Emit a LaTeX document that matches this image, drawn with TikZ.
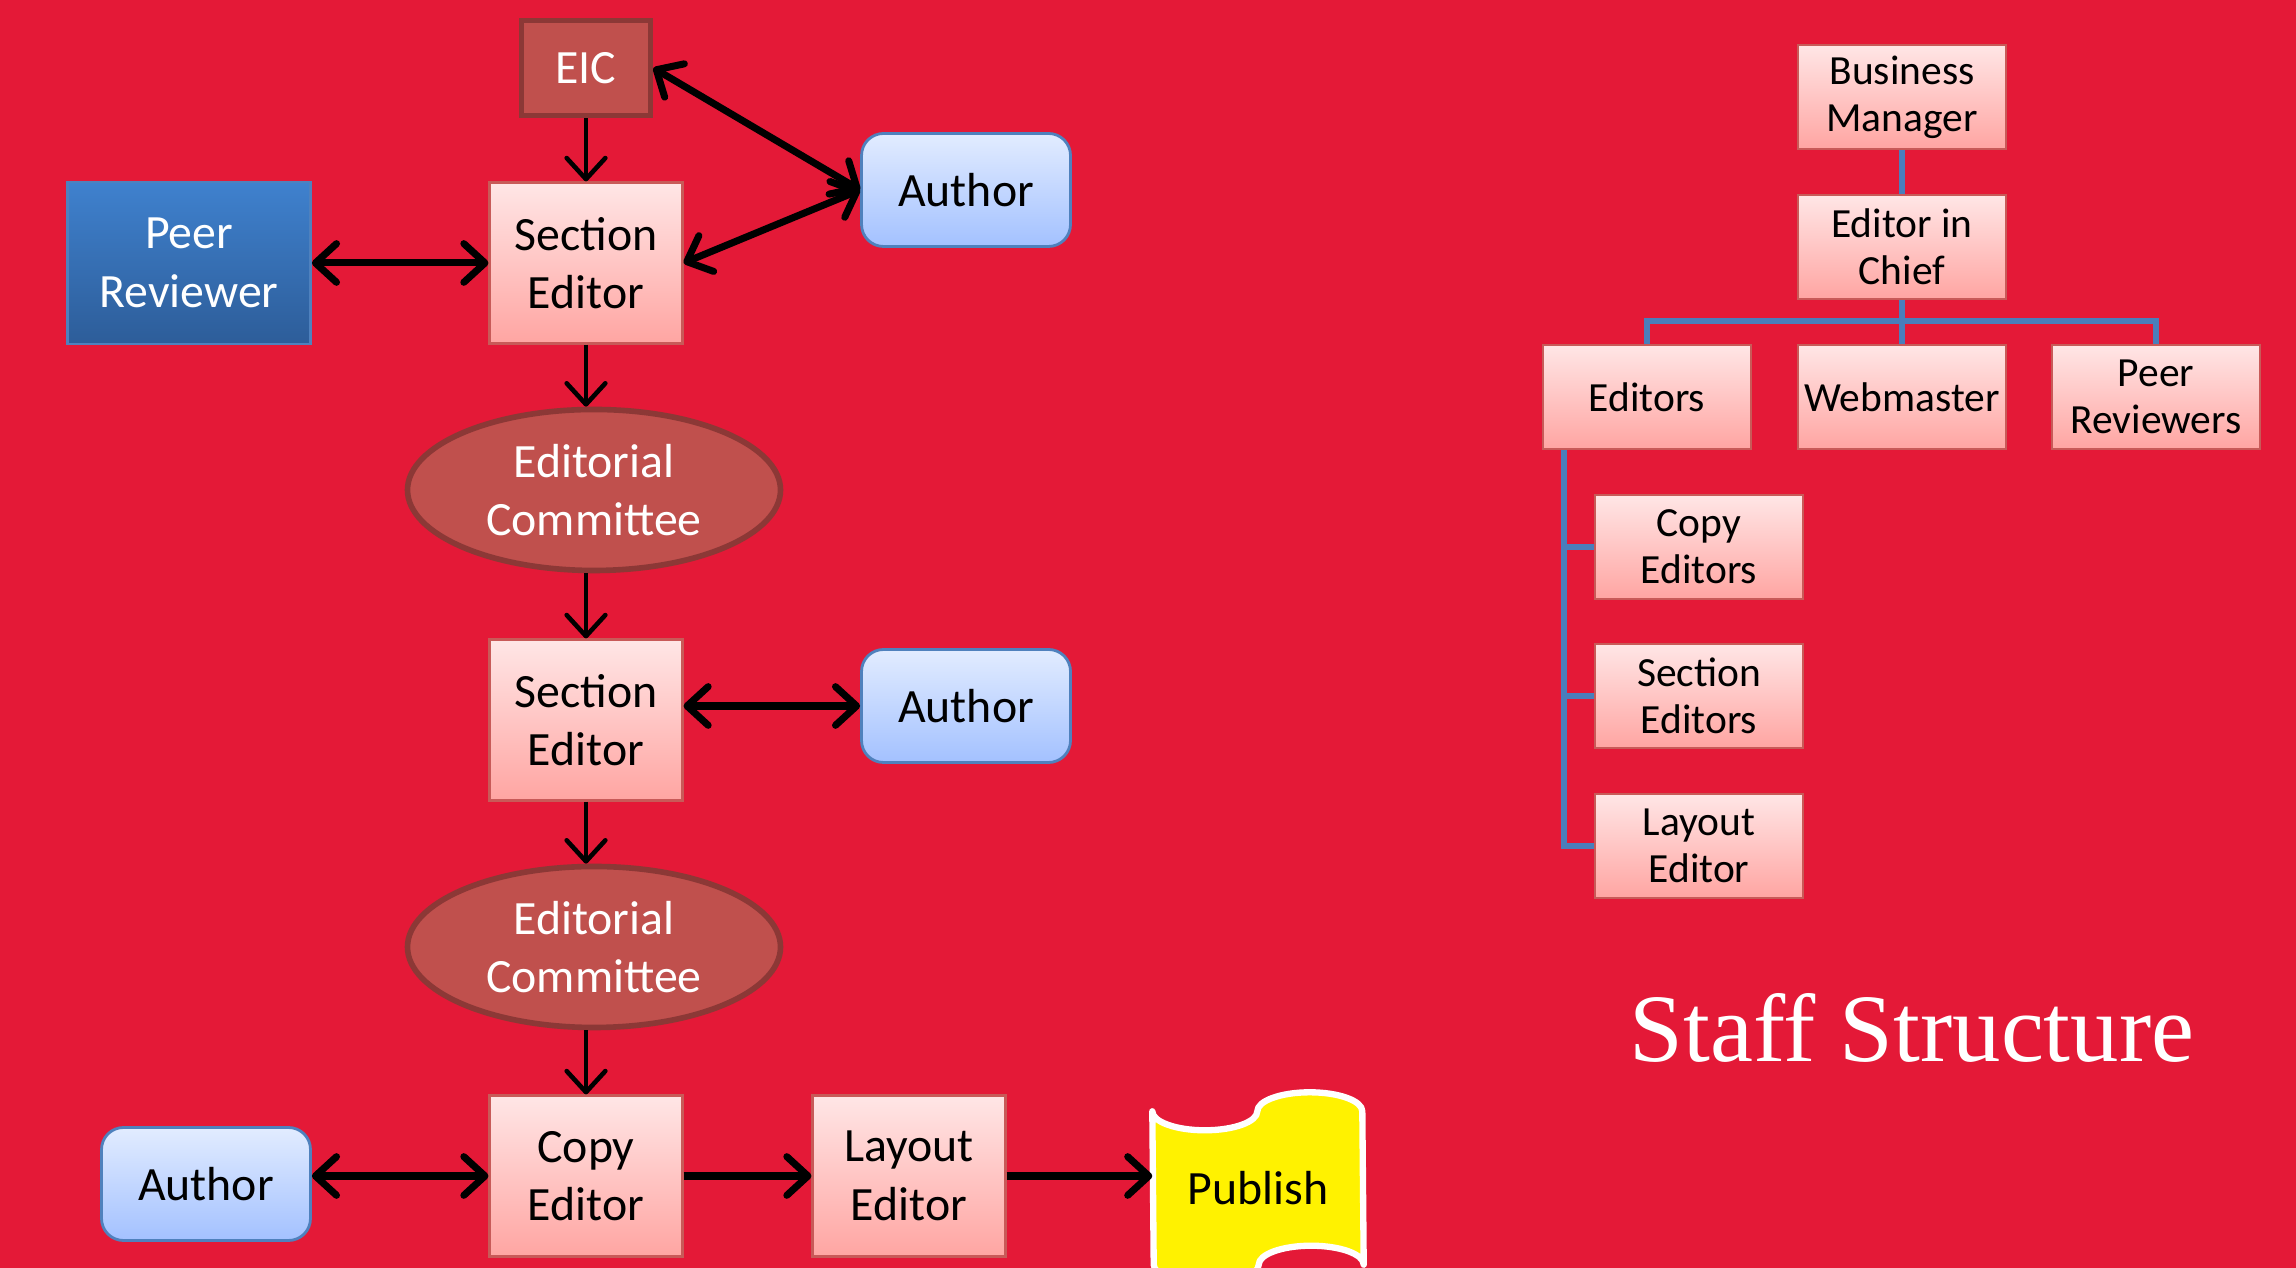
\documentclass[tikz,border=0pt]{standalone}
\usepackage{fontspec}
\setmainfont{Carlito}
\newfontfamily\titlefont{Liberation Serif}
\usetikzlibrary{arrows.meta,shapes.geometric,backgrounds}
\definecolor{bgred}{HTML}{E41937}
\definecolor{pinktop}{HTML}{FFE6E6}
\definecolor{pinkbot}{HTML}{FFA5A2}
\definecolor{pinkedge}{HTML}{C85A58}
\definecolor{eicfill}{HTML}{C0504D}
\definecolor{eicedge}{HTML}{8C3836}
\definecolor{bluetop}{HTML}{3F81CE}
\definecolor{bluebot}{HTML}{2D5D99}
\definecolor{blueedge}{HTML}{4F81BD}
\definecolor{authtop}{HTML}{E2ECFF}
\definecolor{authbot}{HTML}{A3C1FF}
\definecolor{authedge}{HTML}{4F81BD}
\definecolor{orgblue}{HTML}{4A7EBB}

\begin{document}
\begin{tikzpicture}[
		>={Straight Barb[length=6pt,width=11pt,round]},
		every node/.style={font=\fontsize{13.6}{16.6}\selectfont, align=center, inner sep=0pt},
		pinkbox/.style={rectangle, draw=pinkedge, line width=0.6pt, top color=pinktop, bottom color=pinkbot, minimum width=1.93cm, minimum height=1.61cm},
		orgbox/.style={pinkbox, minimum width=2.08cm, minimum height=1.04cm, font=\fontsize{11.8}{13.4}\selectfont},
		chiefbox/.style={rectangle, draw=eicedge, line width=1.6pt, fill=eicfill, text=white, minimum width=1.29cm, minimum height=0.95cm},
		committee/.style={ellipse, draw=eicedge, line width=1.6pt, fill=eicfill, text=white, minimum width=3.73cm, minimum height=1.61cm},
		authorbox/.style={rectangle, rounded corners=0.22cm, draw=authedge, line width=0.8pt, top color=authtop, bottom color=authbot, minimum width=2.09cm, minimum height=1.13cm},
		reviewbox/.style={rectangle, draw=blueedge, line width=0.8pt, top color=bluetop, bottom color=bluebot, text=white, minimum width=2.43cm, minimum height=1.62cm},
		flow/.style={->, line width=1.3pt},
		oneway/.style={->, line width=2pt},
		twoway/.style={<->, line width=2pt},
		orgline/.style={draw=orgblue, line width=1.8pt},
	]
				\useasboundingbox (0, 0) rectangle (22.96, 12.68);
				\node[chiefbox] (eic) at (5.86, 12.00) {EIC};
				\node[authorbox] (auth1) at (9.66, 10.78) {Author};
				\node[reviewbox] (peer) at (1.89, 10.05) {Peer\\Reviewer};
				\node[pinkbox] (sec1) at (5.86, 10.05) {Section\\Editor};
				\node[committee] (comm1) at (5.94, 7.78) {Editorial\\Committee};
				\node[pinkbox] (sec2) at (5.86, 5.48) {Section\\Editor};
				\node[authorbox] (auth2) at (9.66, 5.62) {Author};
				\node[committee] (comm2) at (5.94, 3.21) {Editorial\\Committee};
				\node[pinkbox] (copy) at (5.86, 0.92) {Copy\\Editor};
				\node[pinkbox] (layout) at (9.09, 0.92) {Layout\\Editor};
				\node[authorbox] (auth3) at (2.06, 0.84) {Author};
				\node[minimum width=2.1cm, minimum height=1.9cm] (pub) at (12.58, 0.80) {Publish};
				\begin{scope}[on background layer]
					\fill[bgred] (0, 0) rectangle (22.96, 12.68);
					\draw[fill=yellow, draw=white, line width=1.8pt, line join=round]
						([yshift=-0.19cm]pub.north west)
						arc[start angle=180, end angle=360, x radius=0.525cm, y radius=0.19cm]
						arc[start angle=180, end angle=0, x radius=0.525cm, y radius=0.19cm]
						-- ([yshift=0.19cm]pub.south east)
						arc[start angle=0, end angle=180, x radius=0.525cm, y radius=0.19cm]
						arc[start angle=0, end angle=-180, x radius=0.525cm, y radius=0.19cm]
						-- cycle;
				\end{scope}
				\draw[flow] (eic) to (sec1);
				\draw[twoway] (eic.east) to (auth1.west);
				\draw[twoway] (sec1.east) to (auth1.west);
				\draw[twoway] (peer) to (sec1);
				\draw[flow] (sec1) to (comm1.north -| sec1);
				\draw[flow] (comm1.south -| sec2) to (sec2);
				\draw[twoway] (auth2.west -| sec2.east) to (auth2.west);
				\draw[flow] (sec2) to (comm2.north -| sec2);
				\draw[flow] (comm2.south -| copy) to (copy);
				\draw[twoway] (copy.west -| auth3.east) to (copy.west);
				\draw[oneway] (copy) to (layout);
				\draw[oneway] (layout.east) to (layout.east -| pub.west);
				\node[orgbox] (boss) at (19.02, 11.71) {Business\\Manager};
				\node[orgbox] (chief) at (19.02, 10.21) {Editor in\\Chief};
				\node[orgbox] (editors) at (16.47, 8.71) {Editors};
				\node[orgbox] (web) at (19.02, 8.71) {Webmaster};
				\node[orgbox] (peers) at (21.56, 8.71) {Peer\\Reviewers};
				\node[orgbox] (copyeds) at (16.99, 7.21) {Copy\\Editors};
				\node[orgbox] (seceds) at (16.99, 5.72) {Section\\Editors};
				\node[orgbox] (layed) at (16.99, 4.22) {Layout\\Editor};
				\coordinate (fork) at (19.02, 9.47);
				\draw[orgline] (boss) to (chief);
				\draw[orgline] (chief) to (fork);
				\draw[orgline] (editors.north) |- (fork) -| (peers.north);
				\draw[orgline] (fork) to (web);
				\foreach \kid in {copyeds, seceds, layed}
					\draw[orgline] ([xshift=0.22cm]editors.south west) |- (\kid.west);
				\node[anchor=base, text=white, font=\titlefont\fontsize{27.5}{33}\selectfont] (title) at (19.12, 2.06) {Staff Structure};
			\end{tikzpicture}
\end{document}
